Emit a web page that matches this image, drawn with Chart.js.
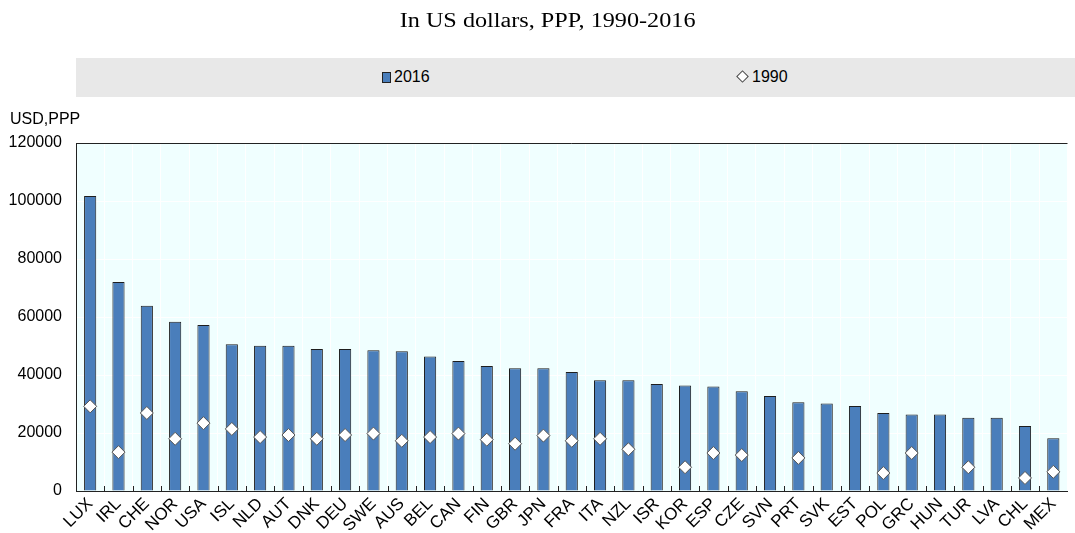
<!DOCTYPE html>
<html>
<head>
<meta charset="utf-8">
<script src="https://cdn.jsdelivr.net/npm/chart.js@4"></script>
<style>
  body { margin: 0; background: #fff; }
  #wrap { position: relative; width: 1075px; height: 533px; }
  #title { position: absolute; top: 9px; left: 10px; width: 1075px; text-align: center;
    font-family: "Liberation Serif", "Times New Roman", serif; font-size: 20px; color: #000;
    transform: scaleX(1.21); transform-origin: 537px 0; }
  #legend { position: absolute; top: 58px; left: 76px; width: 999px; height: 39px; background: #e8e8e8;
    font-family: "Liberation Sans Narrow", "Arial Narrow", "Liberation Sans", Arial, sans-serif; font-size: 16px; color: #000; }
  .item { position: absolute; top: 10px; line-height: 18px; }
  .sq { display: inline-block; width: 7px; height: 9px; background: #4a7ebb; border: 1px solid #222; margin-right: 3px; vertical-align: -1px; }
  .dia { display: inline-block; width: 7px; height: 7px; background: #fff; border: 1px solid #444; transform: rotate(45deg); margin-right: 5px; vertical-align: 1px; }
  #ytitle { position: absolute; top: 110px; left: 10px;
    font-family: "Liberation Sans Narrow", "Arial Narrow", "Liberation Sans", Arial, sans-serif; font-size: 16px; color: #000; }
  canvas { position: absolute; top: 0; left: 0; }
</style>
</head>
<body>
<div id="wrap">
  <canvas id="chart" width="1075" height="533"></canvas>
  <div id="title">In US dollars, PPP, 1990-2016</div>
  <div id="legend">
    <span class="item" style="left:306px"><span class="sq"></span>2016</span>
    <span class="item" style="left:662px"><span class="dia"></span>1990</span>
  </div>
  <div id="ytitle">USD,PPP</div>
</div>
<script>
const countries = ["LUX","IRL","CHE","NOR","USA","ISL","NLD","AUT","DNK","DEU","SWE","AUS","BEL","CAN","FIN","GBR","JPN","FRA","ITA","NZL","ISR","KOR","ESP","CZE","SVN","PRT","SVK","EST","POL","GRC","HUN","TUR","LVA","CHL","MEX"];
const values2016 = [101700,72100,63900,58400,57200,50600,50100,50100,49000,49000,48500,48200,46400,44800,43100,42300,42300,41000,38200,38200,36900,36400,36000,34400,32800,30600,30200,29300,26900,26400,26400,25300,25300,22400,18200];
const values1990 = [29200,13400,26900,18000,23400,21400,18600,19300,18000,19300,19800,17300,18600,19800,17700,16300,19100,17300,18000,14400,null,8200,13100,12400,null,11400,null,null,6200,13100,null,8200,null,4500,6600];
const yTicks = [0,20000,40000,60000,80000,100000,120000];

const labelFont = { family: '"Liberation Sans Narrow", "Arial Narrow", "Liberation Sans", Arial, sans-serif', size: 16 };

// plot background, top frame line and small inner tick marks
const plotDecor = {
  id: "plotDecor",
  beforeDraw(chart) {
    const { ctx, chartArea: a } = chart;
    ctx.save();
    ctx.fillStyle = "#f0ffff";
    ctx.fillRect(a.left, a.top, a.right - a.left, a.bottom - a.top);
    ctx.restore();
  },
  afterDatasetsDraw(chart) {
    const { ctx, chartArea: a, scales } = chart;
    ctx.save();
    ctx.strokeStyle = "#222";
    ctx.lineWidth = 1;
    ctx.beginPath();
    ctx.moveTo(a.left, a.top + 0.5);
    ctx.lineTo(a.right, a.top + 0.5);
    const x = scales.x;
    for (let i = 1; i < countries.length; i++) {
      const px = Math.round((x.getPixelForValue(i - 1) + x.getPixelForValue(i)) / 2) + 0.5;
      ctx.moveTo(px, a.bottom);
      ctx.lineTo(px, a.bottom - 5);
    }
    ctx.stroke();
    ctx.restore();
  }
};

new Chart(document.getElementById("chart"), {
  type: "bar",
  data: {
    labels: countries,
    datasets: [
      {
        type: "line",
        label: "1990",
        data: values1990,
        showLine: false,
        pointStyle: "rectRot",
        pointRadius: 6.5,
        pointBackgroundColor: "#ffffff",
        pointBorderColor: "#555555",
        pointBorderWidth: 1,
        order: 0
      },
      {
        label: "2016",
        data: values2016,
        backgroundColor: "#4a7ebb",
        borderColor: "#1e1e1e",
        borderWidth: 1,
        barPercentage: 0.43,
        categoryPercentage: 1,
        order: 1
      }
    ]
  },
  options: {
    responsive: false,
    animation: false,
    layout: { padding: { top: 143, left: 0, right: 0, bottom: 0 } },
    plugins: {
      legend: { display: false },
      title: { display: false },
      tooltip: { enabled: false }
    },
    scales: {
      x: {
        offset: true,
        grid: { offset: true, color: "#ffffff", drawTicks: false },
        border: { color: "#222", width: 1 },
        ticks: { color: "#000", font: { family: labelFont.family, size: 17 }, minRotation: 45, maxRotation: 45, autoSkip: false, padding: 3 },
        afterFit(scale) { scale.height = 42; }
      },
      y: {
        min: 0,
        max: 120000,
        afterBuildTicks(scale) { scale.ticks = yTicks.map(v => ({ value: v })); },
        grid: { color: "#ffffff", drawTicks: false },
        border: { color: "#222", width: 1 },
        ticks: { color: "#000", font: labelFont, padding: 14, callback: v => String(v) },
        afterFit(scale) { scale.width = 76; }
      }
    }
  },
  plugins: [plotDecor]
});
</script>
</body>
</html>
